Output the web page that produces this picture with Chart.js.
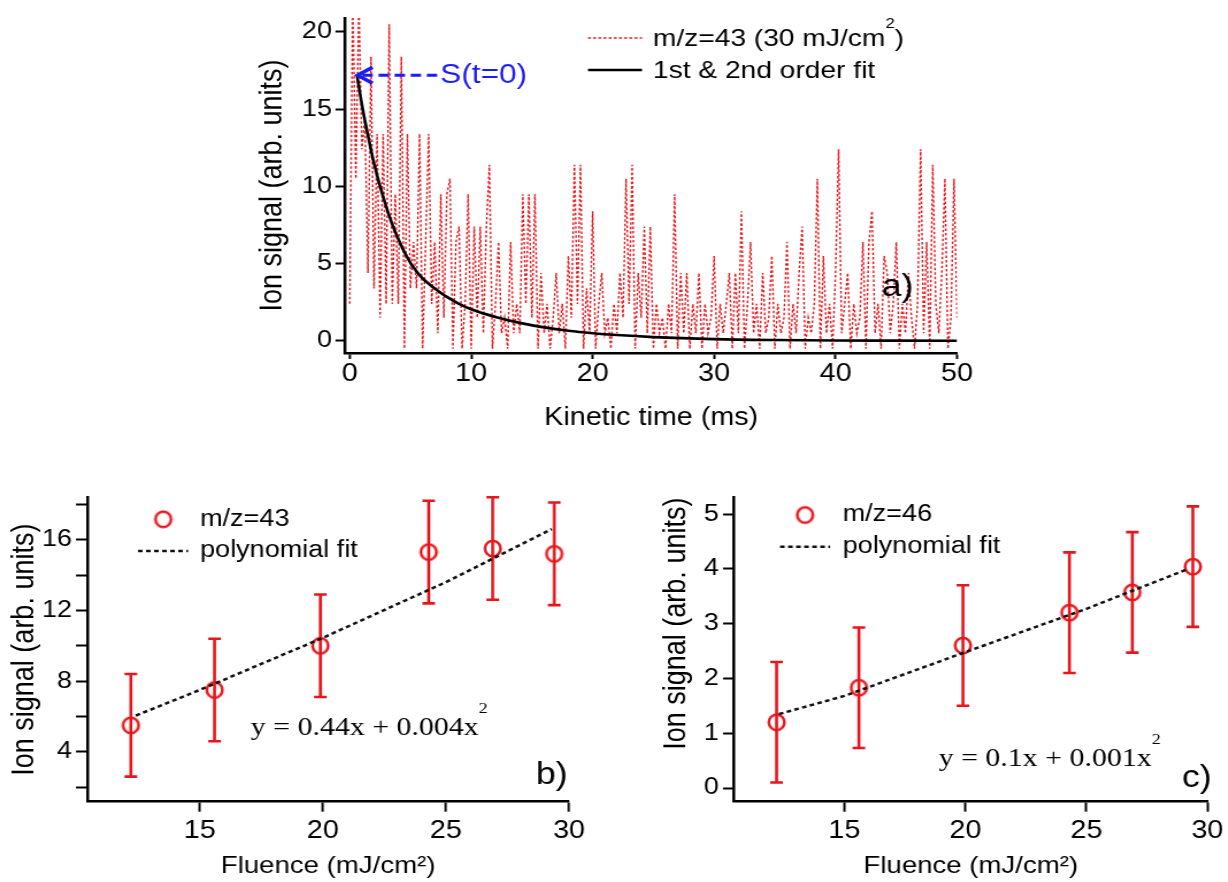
<!DOCTYPE html>
<html>
<head>
<meta charset="utf-8">
<script src="https://cdn.jsdelivr.net/npm/chart.js@4/dist/chart.umd.min.js"></script>
<style>
  html, body { margin: 0; padding: 0; background: #fff; }
  body { width: 1228px; height: 882px; position: relative; overflow: hidden; }
  /* the source figure is a bit wider than tall, so every canvas gets the same horizontal stretch */
  canvas { position: absolute; transform: scaleX(1.15); transform-origin: 0 0; }
  #cA { left: 240px; top: 0; }
  #cB { left: 0; top: 480px; }
  #cC { left: 615px; top: 480px; }
</style>
</head>
<body>
<canvas id="cA" width="644" height="440"></canvas>
<canvas id="cB" width="522" height="402"></canvas>
<canvas id="cC" width="533" height="402"></canvas>
<script>
// ---- data ----
// a) kinetic trace, one sample every 0.25 ms from 0 to 50 ms
const traceStep = 0.25;
const traceSignal = [
  2.4, 22, 10.5, 22, 12.4, 14.4, 4.4, 18.4, 3.4, 13.4, 1.5, 13.4, 2.4, 20.5, 2.4, 9.5, 2.4, 18.4, -0.5, 13.4,
  3.4, 6.4, 3.4, 13.4, -0.5, 6.4, 13.4, 2.4, 6.4, 0.5, 9.5, 1.5, 9.5, 10.5, -0.5, 6.4, 7.4, -0.5, 2.4, 9.5,
  -0.5, 7.4, 1.5, 7.4, 0.5, 7.4, 11.4, -0.5, 2.4, 6.4, 0.5, 1.5, -0.5, 6.4, 0.5, 2.4, 0.5, 9.5, 2.4, 9.5,
  1.5, 9.5, -0.5, 4.4, 0.5, 2.4, -0.5, 1.5, 4.4, 0.5, 2.4, -0.5, 5.5, 1.5, 11.4, 2.4, 11.4, -0.5, 3.4, 0.5,
  8.4, -0.5, 2.4, 4.4, 0.5, 1.5, -0.5, 2.4, 0.5, 4.4, 1.5, 10.5, 2.4, 11.4, -0.5, 4.4, 1.5, 7.4, 0.5, 7.4,
  -0.5, 2.4, 0.5, 1.5, -0.5, 2.4, 0.5, 9.5, -0.5, 4.4, 0.5, 4.4, -0.5, 2.4, 0.5, 4.4, -0.5, 2.4, 0.5, 1.5,
  5.5, -0.5, 2.4, 0.5, 2.4, 4.4, -0.5, 4.4, 0.5, 8.4, -0.5, 2.4, 6.4, 0.5, 2.4, -0.5, 4.4, 0.5, 1.5, 5.5,
  -0.5, 2.4, 0.5, 1.5, 6.4, -0.5, 2.4, 0.5, 4.4, 7.4, -0.5, 1.5, 0.5, 2.4, 10.5, -0.5, 5.5, 0.5, 2.4, -0.5,
  4.4, 12.4, 0.5, 2.4, 4.4, -0.5, 2.4, 0.5, 1.5, 6.4, -0.5, 6.4, 8.4, 0.5, 2.4, -0.5, 5.5, 4.4, 0.5, 2.4,
  6.4, -0.5, 2.4, 0.5, 4.4, 1.5, -0.5, 2.4, 12.4, 0.5, 6.4, -0.5, 11.4, 2.4, 0.5, 4.4, 10.5, -0.5, 1.5, 10.5,
  1.5
];
// a) the black fit curve
const fitTime   = [0.6, 1, 1.5, 2, 2.5, 3, 3.5, 4, 4.5, 5, 5.5, 6, 6.5, 7, 8, 9, 10, 12, 14, 16, 18, 20, 22, 25, 30, 35, 40, 45, 50];
const fitSignal = [17.2, 15.3, 13.3, 11.5, 10.0, 8.7, 7.55, 6.6, 5.75, 5.05, 4.5, 4.05, 3.7, 3.4, 2.85, 2.4, 2.05, 1.55, 1.17, 0.88, 0.66, 0.5, 0.38, 0.25, 0.12, 0.06, 0.03, 0.02, 0.01];
const timeTicks   = [0, 10, 20, 30, 40, 50];
const signalTicks = [0, 5, 10, 15, 20];

// b) and c) fluence series
const fluence = [12.2, 15.6, 19.9, 24.3, 26.9, 29.4];
const ion43   = [5.5, 7.5, 10.0, 15.3, 15.5, 15.2];
const err43   = [2.9, 2.9, 2.9, 2.9, 2.9, 2.9];
const ion46   = [1.2, 1.83, 2.6, 3.2, 3.57, 4.04];
const err46   = [1.1, 1.1, 1.1, 1.1, 1.1, 1.1];
const fit43X  = [12.4, 15, 20, 25, 29.3];
const fit43Y  = [6.05, 7.5, 10.45, 13.6, 16.6];
const fit46X  = [12.3, 15, 20, 25, 29.1];
const fit46Y  = [1.35, 1.68, 2.48, 3.27, 3.98];
const fluenceTicks = [15, 20, 25, 30];
const ionTicksB    = [2, 4, 6, 8, 10, 12, 14, 16, 18];
const ionLabelsB   = [4, 8, 12, 16];
const ionTicksC    = [0, 1, 2, 3, 4, 5];

// ---- styling helpers ----
const S = 1.15;
const FONT = "'Liberation Sans', Arial, sans-serif";
const SERIF = "'Liberation Serif', 'Times New Roman', serif";
const RED = '#e8161c';
const BLUE = '#1c1cf0';

Chart.defaults.font.family = FONT;
Chart.defaults.color = '#000';

const pts = (xs, ys) => xs.map((x, i) => ({ x: x, y: ys[i] }));

// open circle, pre-squeezed so it looks round after the css stretch
function ring(r, color, lw) {
  const c = document.createElement('canvas');
  c.width = Math.ceil(2 * r / S + lw + 2);
  c.height = Math.ceil(2 * r + lw + 2);
  const g = c.getContext('2d');
  g.strokeStyle = color;
  g.lineWidth = lw;
  g.beginPath();
  g.ellipse(c.width / 2, c.height / 2, r / S, r, 0, 0, Math.PI * 2);
  g.stroke();
  return c;
}
const marker = ring(7.8, RED, 2.5);

function axis(o) {
  return {
    type: 'linear', min: o.min, max: o.max,
    afterBuildTicks: s => { s.ticks = o.ticks.map(v => ({ value: v })); },
    afterFit: s => {
      if (o.width != null) s.width = o.width;
      if (o.height != null) s.height = o.height;
    },
    border: { display: true, color: '#000', width: 2.5 },
    grid: { display: true, drawOnChartArea: false, drawTicks: true, tickLength: o.tickLength, tickColor: '#000', tickWidth: 2 },
    ticks: {
      color: '#000', font: { family: FONT, size: o.tickSize }, padding: o.tickPad,
      autoSkip: false, maxRotation: 0,
      callback: o.labelFn || (v => String(v))
    },
    title: { display: true, text: o.title, color: '#000', align: o.titleAlign || 'center',
      font: { family: FONT, size: o.titleSize }, padding: o.titlePad }
  };
}

function richText(ctx, parts, x, y, size, family, color) {
  ctx.fillStyle = color;
  ctx.textBaseline = 'middle';
  ctx.textAlign = 'left';
  parts.forEach(p => {
    const sz = p.sup ? size * 0.6 : size;
    ctx.font = sz + 'px ' + family;
    ctx.fillText(p.t, x, p.sup ? y - size * (p.rise || 0.5) : y);
    x += ctx.measureText(p.t).width;
  });
}

// legends, labels, arrow and error bars
function decor(cfg) {
  return {
    id: 'decor',
    beforeDatasetsDraw(chart) {
      const { ctx, scales: { x, y } } = chart;
      chart.data.datasets.forEach(ds => {
        if (!ds.errors) return;
        ctx.save();
        ctx.strokeStyle = ds.errorColor;
        ctx.lineWidth = 2.6;
        ds.data.forEach((p, i) => {
          const px = x.getPixelForValue(p.x);
          const top = y.getPixelForValue(p.y + ds.errors[i]);
          const bot = y.getPixelForValue(p.y - ds.errors[i]);
          ctx.beginPath();
          ctx.moveTo(px, top); ctx.lineTo(px, bot);
          ctx.moveTo(px - 5.5, top); ctx.lineTo(px + 5.5, top);
          ctx.moveTo(px - 5.5, bot); ctx.lineTo(px + 5.5, bot);
          ctx.stroke();
        });
        ctx.restore();
      });
    },
    afterDraw(chart) {
      const { ctx, scales: { x, y } } = chart;
      ctx.save();
      (cfg.legend || []).forEach(it => {
        if (it.kind === 'line') {
          ctx.strokeStyle = it.color;
          ctx.lineWidth = it.width;
          ctx.setLineDash(it.dash || []);
          ctx.beginPath();
          ctx.moveTo(it.x0, it.y); ctx.lineTo(it.x1, it.y);
          ctx.stroke();
          ctx.setLineDash([]);
        } else {
          ctx.drawImage(marker, it.x - marker.width / 2, it.y - marker.height / 2);
        }
      });
      (cfg.texts || []).forEach(t => richText(ctx, t.parts, t.x, t.y, t.size, t.family || FONT, t.color || '#000'));
      if (cfg.arrow) {
        const a = cfg.arrow;
        const tipX = x.getPixelForValue(a.tip[0]), tipY = y.getPixelForValue(a.tip[1]);
        const tailX = x.getPixelForValue(a.tail[0]);
        ctx.strokeStyle = a.color;
        ctx.lineWidth = 3;
        ctx.setLineDash([9, 5]);
        ctx.beginPath();
        ctx.moveTo(tailX, tipY); ctx.lineTo(tipX + 4, tipY);
        ctx.stroke();
        ctx.setLineDash([]);
        ctx.lineWidth = 3.5;
        ctx.beginPath();
        ctx.moveTo(tipX + 13, tipY - 8); ctx.lineTo(tipX, tipY); ctx.lineTo(tipX + 13, tipY + 8);
        ctx.stroke();
        richText(ctx, [{ t: a.label }], x.getPixelForValue(a.labelAt), tipY, a.size, FONT, a.color);
      }
      ctx.restore();
    }
  };
}

const common = {
  responsive: false,
  animation: false,
  events: [],
  plugins: { legend: { display: false }, tooltip: { enabled: false } }
};

// ---- a) ----
new Chart(document.getElementById('cA'), {
  type: 'line',
  data: {
    datasets: [
      { label: '1st & 2nd order fit', data: pts(fitTime, fitSignal), borderColor: '#000', borderWidth: 2.6,
        pointRadius: 0, cubicInterpolationMode: 'monotone' },
      { label: 'm/z=43 (30 mJ/cm²)', data: traceSignal.map((v, i) => ({ x: i * traceStep, y: v })),
        borderColor: RED, borderWidth: 1.4, borderDash: [2.5, 2], pointRadius: 0, tension: 0 }
    ]
  },
  options: Object.assign({}, common, {
    layout: { padding: { left: 0, top: 18, right: 20.5, bottom: 0 } },
    scales: {
      x: axis({ min: -0.35, max: 50, ticks: timeTicks, height: 87, tickLength: 6, tickSize: 25, tickPad: 0,
        title: 'Kinetic time (ms)', titleSize: 25, titlePad: { top: 0, bottom: 7 } }),
      y: axis({ min: -0.78, max: 20.9, ticks: signalTicks, width: 91.7, tickLength: 8.7, tickSize: 23.5, tickPad: 3,
        title: 'Ion signal (arb. units)', titleSize: 27, titlePad: { top: 12.5, bottom: 0 } })
    }
  }),
  plugins: [decor({
    legend: [
      { kind: 'line', x0: 302.6, x1: 349.6, y: 38, color: RED, width: 1.5, dash: [2.5, 2] },
      { kind: 'line', x0: 302.6, x1: 349.6, y: 70, color: '#000', width: 2.6 }
    ],
    texts: [
      { parts: [{ t: 'm/z=43 (30 mJ/cm' }, { t: '2', sup: true, rise: 0.6 }, { t: ')' }], x: 359, y: 39, size: 24.5 },
      { parts: [{ t: '1st & 2nd order fit' }], x: 359, y: 71, size: 24.5 },
      { parts: [{ t: 'a)' }], x: 558, y: 287, size: 31 }
    ],
    arrow: { tip: [0.65, 17.2], tail: [7.2, 17.2], labelAt: 7.45, label: 'S(t=0)', color: BLUE, size: 27.5 }
  })]
});

// ---- b) ----
new Chart(document.getElementById('cB'), {
  type: 'scatter',
  data: {
    datasets: [
      { label: 'polynomial fit', data: pts(fit43X, fit43Y), showLine: true, borderColor: '#111', borderWidth: 2.5,
        borderDash: [4, 3], pointRadius: 0 },
      { label: 'm/z=43', data: pts(fluence, ion43), errors: err43, errorColor: RED, showLine: false,
        pointStyle: marker, pointRadius: 8 }
    ]
  },
  options: Object.assign({}, common, {
    layout: { padding: { left: 0, top: 16.7, right: 27.2, bottom: 0 } },
    scales: {
      x: axis({ min: 10.43, max: 30, ticks: fluenceTicks, height: 80.3, tickLength: 10, tickSize: 25, tickPad: 4,
        title: 'Fluence (mJ/cm²)', titleSize: 24, titlePad: { top: 0, bottom: 1.6 } }),
      y: axis({ min: 1.18, max: 18.38, ticks: ionTicksB, width: 75.9, tickLength: 9.8, tickSize: 23.5, tickPad: 3.5,
        labelFn: v => (ionLabelsB.includes(v) ? String(v) : ''),
        title: 'Ion signal (arb. units)', titleSize: 27, titlePad: { top: 5.5, bottom: 0 } })
    }
  }),
  plugins: [decor({
    legend: [
      { kind: 'circle', x: 142, y: 39.3 },
      { kind: 'line', x0: 120, x1: 163.5, y: 71, color: '#111', width: 2.5, dash: [4, 3] }
    ],
    texts: [
      { parts: [{ t: 'm/z=43' }], x: 174, y: 39.3, size: 23.5 },
      { parts: [{ t: 'polynomial fit' }], x: 174, y: 71, size: 23.5 },
      { parts: [{ t: 'y = 0.44x + 0.004x' }, { t: '2', sup: true, rise: 0.75 }], x: 218, y: 248, size: 26, family: SERIF },
      { parts: [{ t: 'b)' }], x: 466, y: 295, size: 31 }
    ]
  })]
});

// ---- c) ----
new Chart(document.getElementById('cC'), {
  type: 'scatter',
  data: {
    datasets: [
      { label: 'polynomial fit', data: pts(fit46X, fit46Y), showLine: true, borderColor: '#111', borderWidth: 2.5,
        borderDash: [4, 3], pointRadius: 0 },
      { label: 'm/z=46', data: pts(fluence, ion46), errors: err46, errorColor: RED, showLine: false,
        pointStyle: marker, pointRadius: 8 }
    ]
  },
  options: Object.assign({}, common, {
    layout: { padding: { left: 0, top: 16.7, right: 14.7, bottom: 0 } },
    scales: {
      x: axis({ min: 10.45, max: 30, ticks: fluenceTicks, height: 80.3, tickLength: 10, tickSize: 25, tickPad: 4,
        title: 'Fluence (mJ/cm²)', titleSize: 24, titlePad: { top: 0, bottom: 1.6 } }),
      y: axis({ min: -0.25, max: 5.3, ticks: ionTicksC, width: 103.7, tickLength: 9.8, tickSize: 23.5, tickPad: 3.5,
        title: 'Ion signal (arb. units)', titleSize: 27, titleAlign: 'end', titlePad: { top: 37.7, bottom: 0 } })
    }
  }),
  plugins: [decor({
    legend: [
      { kind: 'circle', x: 165.2, y: 35 },
      { kind: 'line', x0: 143.5, x1: 187, y: 66.7, color: '#111', width: 2.5, dash: [4, 3] }
    ],
    texts: [
      { parts: [{ t: 'm/z=46' }], x: 198, y: 35, size: 23.5 },
      { parts: [{ t: 'polynomial fit' }], x: 198, y: 66.7, size: 23.5 },
      { parts: [{ t: 'y = 0.1x + 0.001x' }, { t: '2', sup: true, rise: 0.75 }], x: 281.4, y: 279, size: 26, family: SERIF },
      { parts: [{ t: 'c)' }], x: 493, y: 298, size: 31 }
    ]
  })]
});
</script>
</body>
</html>
